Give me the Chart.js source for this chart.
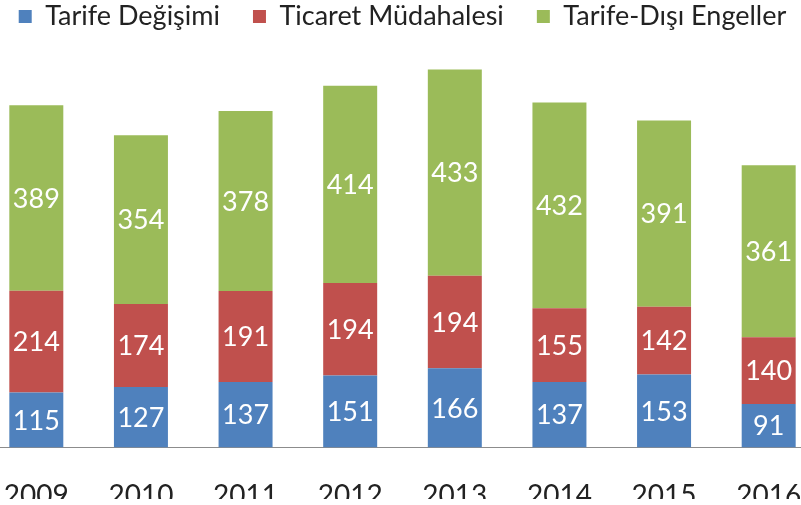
<!DOCTYPE html>
<html>
<head>
<meta charset="utf-8">
<script src="https://cdn.jsdelivr.net/npm/chart.js@4.4.1/dist/chart.umd.min.js"></script>
<style>
  html, body { margin: 0; padding: 0; background: #fff; overflow: hidden; width: 801px; height: 505px; }
  #clip { position: absolute; left: 0; top: 0; width: 801px; height: 499px; overflow: hidden; }
  #wrap { position: absolute; left: -16px; top: 0; width: 837px; height: 530px; }
</style>
</head>
<body>
<div id="clip"><div id="wrap"><canvas id="c" width="837" height="530"></canvas></div></div>
<script>
const categories = ['2009', '2010', '2011', '2012', '2013', '2014', '2015', '2016'];
const seriesNames = ['Tarife Değişimi', 'Ticaret Müdahalesi', 'Tarife-Dışı Engeller'];
const tarifeDegisimi = [115, 127, 137, 151, 166, 137, 153, 91];
const ticaretMudahalesi = [214, 174, 191, 194, 194, 155, 142, 140];
const tarifeDisiEngeller = [389, 354, 378, 414, 433, 432, 391, 361];

const colors = ['#4F81BD', '#C0504D', '#9BBB59'];

const segLabels = {
  id: 'segLabels',
  afterDatasetsDraw(chart) {
    const ctx = chart.ctx;
    ctx.save();
    ctx.fillStyle = '#ffffff';
    ctx.font = '27px Lato';
    ctx.textAlign = 'center';
    ctx.textBaseline = 'middle';
    chart.data.datasets.forEach((ds, i) => {
      chart.getDatasetMeta(i).data.forEach((bar, j) => {
        const p = bar.getProps(['x', 'y', 'base'], true);
        ctx.fillText(String(ds.data[j]), p.x, (p.y + p.base) / 2 + 1);
      });
    });
    ctx.restore();
  }
};

new Chart(document.getElementById('c'), {
  type: 'bar',
  data: {
    labels: categories,
    datasets: [
      { label: seriesNames[0], data: tarifeDegisimi, backgroundColor: colors[0] },
      { label: seriesNames[1], data: ticaretMudahalesi, backgroundColor: colors[1] },
      { label: seriesNames[2], data: tarifeDisiEngeller, backgroundColor: colors[2] }
    ]
  },
  options: {
    responsive: false,
    animation: false,
    devicePixelRatio: 1,
    layout: { padding: { top: -30, bottom: 13, left: 0, right: 0 } },
    datasets: { bar: { categoryPercentage: 0.516, barPercentage: 1 } },
    plugins: {
      legend: {
        position: 'top',
        labels: {
          boxWidth: 13, boxHeight: 13, padding: 33,
          color: '#222', font: { family: 'Lato', size: 27 }
        }
      },
      tooltip: { enabled: false }
    },
    scales: {
      x: {
        stacked: true,
        offset: true,
        grid: { display: true, drawOnChartArea: false, drawTicks: true, tickLength: 28, tickColor: 'rgba(0,0,0,0)' },
        border: { display: true, color: '#8c8c8c', width: 1 },
        ticks: { color: '#222', font: { family: 'Lato', size: 28 }, padding: 4 }
      },
      y: {
        stacked: true,
        display: false,
        min: 0,
        max: 855
      }
    }
  },
  plugins: [segLabels]
});
</script>
</body>
</html>
